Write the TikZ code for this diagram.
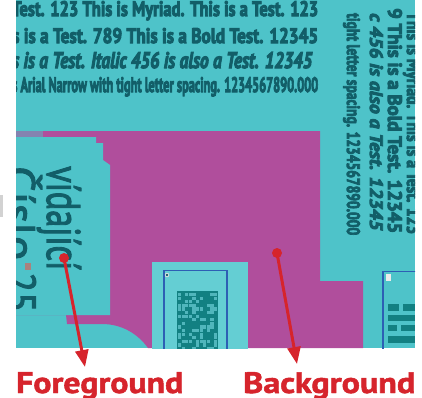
\documentclass[tikz,border=0pt]{standalone}
\usepackage{fontspec}
\setmainfont{PT Sans}
\newfontfamily\heavyfont{PT Sans Bold}[FakeBold=5]
\newfontfamily\heavyitfont{PT Sans Bold Italic}[FakeBold=5]
\newfontfamily\midfont{PT Sans}[FakeBold=2.5]
\newfontfamily\lblfont{PT Sans Bold}[FakeBold=1.5]
\usetikzlibrary{arrows.meta}
\definecolor{bgcyan}{RGB}{78,195,201}
\definecolor{lightcyan}{RGB}{100,206,211}
\definecolor{magbg}{RGB}{176,78,156}
\definecolor{tealtext}{RGB}{18,94,104}
\definecolor{boxblue}{RGB}{45,95,180}
\definecolor{codeteal}{RGB}{18,128,130}
\definecolor{codelight}{RGB}{80,182,188}
\definecolor{arrowred}{RGB}{214,36,44}
\definecolor{smudge}{RGB}{170,130,125}
\tikzset{
  tline/.style={anchor=base west, inner sep=0pt, text=tealtext, font=\heavyfont},
  vline/.style={anchor=base west, inner sep=0pt, text=tealtext, font=\heavyfont, rotate=-90},
  bigv/.style={anchor=base west, inner sep=0pt, text=tealtext, font=\midfont, rotate=-90},
  reddot/.style={circle, fill=arrowred, inner sep=0pt, minimum size=10pt},
  redarrow/.style={draw=arrowred, line width=3pt, -{Triangle[length=17pt,width=13pt]}},
  lbl/.style={anchor=base west, inner sep=0pt, text=arrowred, font=\lblfont},
}
\begin{document}
\begin{tikzpicture}[x=1pt,y=-1pt]
\useasboundingbox (0,0) rectangle (422,397);
\fill[gray!35] (0,195) rectangle (2.5,217);
\begin{scope}
\clip (16,0) rectangle (415,348);
\fill[bgcyan] (16,0) rectangle (415,348);
% magenta background region
\fill[magbg] (16,131) -- (320,131) -- (320,281) -- (363,281) -- (363,348) -- (148,348)
  .. controls (138,334) and (122,324) .. (102,324) -- (67,324) -- (66,315) -- (16,315) -- cycle;
\fill[magbg!55!bgcyan] (16,131) rectangle (43,137);
% left cyan label box
\fill[bgcyan] (16,137) -- (96,137) -- (96,143) -- (103,143) -- (103,160) -- (110,165) -- (110,315) -- (16,315) -- cycle;
% box 1 with data matrix
\fill[lightcyan] (152,262) rectangle (248,360);
\draw[boxblue, line width=1.6pt] (164,360) -- (164,270.5) -- (227,270.5) -- (227,360);
\fill[white!80!gray] (167,275) circle (2.2);
\fill[tealtext] (167,275) circle (1.3);
\fill[codeteal] (177,291) rectangle (218,360);
\pgfmathsetseed{11}
\foreach \cx in {0,...,10}{
  \foreach \cy in {0,...,15}{
    \pgfmathrandominteger{\rv}{0}{9}
    \ifnum\rv<4 \fill[codelight] ({178+\cx*3.6},{293+\cy*3.6}) rectangle ++(3.2,3.2);\fi
  }}
% box 2
\draw[boxblue, line width=1.6pt] (383,360) -- (383,271.5) -- (420,271.5);
\fill[white!85!gray] (385.5,274) rectangle (390.5,281);
\fill[codeteal] (388,304) rectangle (399,311);
\fill[codeteal] (403,304) rectangle (415,311);
\fill[codeteal] (388,315) rectangle (415,321);
\fill[codeteal] (388,325) rectangle (397,331);
\fill[codeteal] (401,325) rectangle (415,331);
\fill[codeteal] (388,336) rectangle (415,343);
% horizontal text lines
\node[tline] (l1) at (12,16) {\resizebox{306pt}{15pt}{Test. 123 This is Myriad. This is a Test. 123}};
\node[tline] (l2) at (12,43) {\resizebox{306pt}{15pt}{s is a Test. 789 This is a Bold Test. 12345}};
\node[tline] (l3) at (12,68) {\resizebox{300pt}{16pt}{\heavyitfont s is a Test. Italic 456 is also a Test. 12345}};
\node[tline] (l4) at (12,92) {\resizebox{306pt}{15pt}{s Arial Narrow with tight letter spacing. 1234567890.000}};
% vertical text lines
\node[vline] (v1) at (407,12) {\resizebox{222pt}{14pt}{This is Myriad. This is a Test. 123}};
\node[vline] (v2) at (388,8) {\resizebox{225pt}{14pt}{9 This is a Bold Test. 12345}};
\node[vline] (v3) at (370,13) {\resizebox{217pt}{13pt}{\heavyitfont c 456 is also a Test. 12345}};
\node[vline] (v4) at (347,13) {\resizebox{222pt}{13pt}{tight letter spacing. 1234567890.000}};
% big vertical words
\node[bigv] (vid) at (47,166) {\resizebox{104pt}{34pt}{vídající}};
\node[bigv] (cis) at (5,166) {\resizebox{94pt}{37pt}{Číslo}};
\node[bigv] (num) at (6,272) {\resizebox{40pt}{30pt}{25}};
\fill[smudge] (25,263) rectangle (31,270);
\end{scope}
% arrows and labels
\node[reddot] (fgdot) at (64,258) {};
\node[reddot] (bgdot) at (277,253) {};
\coordinate (fgtip) at (85,367);
\coordinate (bgtip) at (297,364);
\draw[redarrow] (fgdot.center) -- (fgtip);
\draw[redarrow] (bgdot.center) -- (bgtip);
\node[lbl] (fglabel) at (16,393) {\resizebox{167pt}{21pt}{Foreground}};
\node[lbl] (bglabel) at (243,393) {\resizebox{172pt}{21pt}{Background}};
\end{tikzpicture}
\end{document}
